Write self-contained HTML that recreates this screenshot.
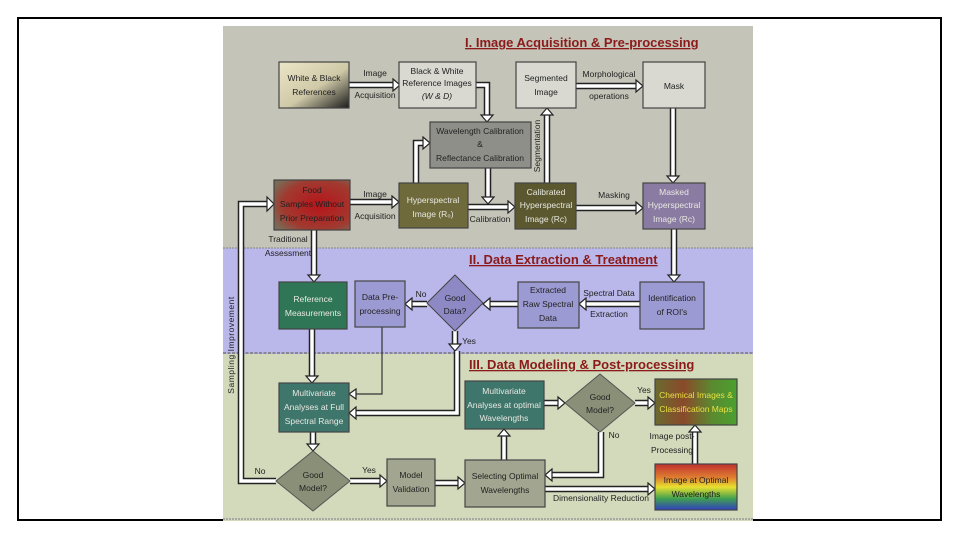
<!DOCTYPE html>
<html><head><meta charset="utf-8"><style>
html,body{margin:0;padding:0;background:#fff;width:960px;height:540px;overflow:hidden}
svg{display:block}
text{font-family:"Liberation Sans",sans-serif;font-size:8.5px;fill:#222}
.bt{fill:#222}
.lt{fill:#e8e8e0}
.tt{font-size:13px;font-weight:bold;fill:#8b1a1a;text-decoration:underline}
.o{fill:none;stroke:#222;stroke-width:6.5}
.i{fill:none;stroke:#fff;stroke-width:3.5}
.h{fill:#fff;stroke:#222;stroke-width:1.2}
.box{stroke:#444;stroke-width:1.2}
</style></head><body>
<svg width="960" height="540" viewBox="0 0 960 540" xmlns="http://www.w3.org/2000/svg">
<defs>
<linearGradient id="gwb" x1="0" y1="0" x2="1" y2="1"><stop offset="0" stop-color="#ece6c8"/><stop offset="0.55" stop-color="#cfc9a8"/><stop offset="1" stop-color="#1a1a1a"/></linearGradient>
<radialGradient id="gfood" cx="0.6" cy="0.5" r="0.7"><stop offset="0" stop-color="#b8141a"/><stop offset="0.7" stop-color="#a03a30"/><stop offset="1" stop-color="#7a6a55"/></radialGradient>
<linearGradient id="gchem" x1="0" y1="0" x2="1" y2="0"><stop offset="0" stop-color="#6a6a30"/><stop offset="0.35" stop-color="#8a4a2a"/><stop offset="0.7" stop-color="#5a8a30"/><stop offset="1" stop-color="#4aa030"/></linearGradient>
<linearGradient id="grain" x1="0" y1="0" x2="0" y2="1"><stop offset="0" stop-color="#c03030"/><stop offset="0.3" stop-color="#e08030"/><stop offset="0.5" stop-color="#e8e030"/><stop offset="0.75" stop-color="#40a050"/><stop offset="1" stop-color="#3040c0"/></linearGradient>
</defs>
<rect x="18" y="18" width="923" height="502" fill="none" stroke="#000" stroke-width="2"/>
<!-- sections -->
<rect x="223" y="26" width="530" height="222" fill="#c5c4b8"/>
<rect x="223" y="248" width="530" height="106" fill="#bab7ea"/>
<rect x="223" y="354" width="530" height="167" fill="#d3dabb"/>
<line x1="223" y1="248" x2="753" y2="248" stroke="#888" stroke-dasharray="2,1"/>
<line x1="223" y1="353" x2="753" y2="353" stroke="#777" stroke-width="1.5" stroke-dasharray="3,1.5"/>
<line x1="223" y1="519" x2="753" y2="519" stroke="#999" stroke-width="1.5" stroke-dasharray="2,1"/>
<text x="465" y="47" class="tt">I. Image Acquisition &amp; Pre-processing</text>
<text x="469" y="264" class="tt">II. Data Extraction &amp; Treatment</text>
<text x="469" y="369" class="tt">III. Data Modeling &amp; Post-processing</text>

<!-- connectors -->
<g>
<path class="o" d="M349 85H393"/><path class="i" d="M349 85H393"/><polygon class="h" points="393,79 400,85 393,91"/>
<path class="o" d="M476 85H487V115"/><path class="i" d="M476 85H487V115"/><polygon class="h" points="481,115 487,122 493,115"/>
<path class="o" d="M416 183V143H423"/><path class="i" d="M416 183V143H423"/><polygon class="h" points="423,137 430,143 423,149"/>
<path class="o" d="M488 168V197"/><path class="i" d="M488 168V197"/><polygon class="h" points="482,197 488,204 494,197"/>
<path class="o" d="M468 207H508"/><path class="i" d="M468 207H508"/><polygon class="h" points="508,201 515,207 508,213"/>
<path class="o" d="M350 202H392"/><path class="i" d="M350 202H392"/><polygon class="h" points="392,196 399,202 392,208"/>
<path class="o" d="M547 183V115"/><path class="i" d="M547 183V115"/><polygon class="h" points="541,115 547,108 553,115"/>
<path class="o" d="M576 86H636"/><path class="i" d="M576 86H636"/><polygon class="h" points="636,80 643,86 636,92"/>
<path class="o" d="M673 108V176"/><path class="i" d="M673 108V176"/><polygon class="h" points="667,176 673,183 679,176"/>
<path class="o" d="M576 208H636"/><path class="i" d="M576 208H636"/><polygon class="h" points="636,202 643,208 636,214"/>
<path class="o" d="M674 229V275"/><path class="i" d="M674 229V275"/><polygon class="h" points="668,275 674,282 680,275"/>
<path class="o" d="M640 304H586"/><path class="i" d="M640 304H586"/><polygon class="h" points="586,298 579,304 586,310"/>
<path class="o" d="M518 304H490"/><path class="i" d="M518 304H490"/><polygon class="h" points="490,298 483,304 490,310"/>
<path class="o" d="M427 304H412"/><path class="i" d="M427 304H412"/><polygon class="h" points="412,298 405,304 412,310"/>
<path class="o" d="M455 331V344"/><path class="i" d="M455 331V344"/><polygon class="h" points="449,344 455,351 461,344"/>
<path class="o" d="M457 351V413H356"/><path class="i" d="M457 351V413H356"/><polygon class="h" points="356,407 349,413 356,419"/>
<path d="M382 327V394H356" fill="none" stroke="#333" stroke-width="1.2"/><polygon class="h" points="356,389 349,394 356,399"/>
<path class="o" d="M314 230V275"/><path class="i" d="M314 230V275"/><polygon class="h" points="308,275 314,282 320,275"/>
<path class="o" d="M312 329V376"/><path class="i" d="M312 329V376"/><polygon class="h" points="306,376 312,383 318,376"/>
<path class="o" d="M313 432V444"/><path class="i" d="M313 432V444"/><polygon class="h" points="307,444 313,451 319,444"/>
<path class="o" d="M350 481H380"/><path class="i" d="M350 481H380"/><polygon class="h" points="380,475 387,481 380,487"/>
<path class="o" d="M435 483H458"/><path class="i" d="M435 483H458"/><polygon class="h" points="458,477 465,483 458,489"/>
<path class="o" d="M504 460V436"/><path class="i" d="M504 460V436"/><polygon class="h" points="498,436 504,429 510,436"/>
<path class="o" d="M544 403H558"/><path class="i" d="M544 403H558"/><polygon class="h" points="558,397 565,403 558,409"/>
<path class="o" d="M635 403H648"/><path class="i" d="M635 403H648"/><polygon class="h" points="648,397 655,403 648,409"/>
<path class="o" d="M601 432V475H552"/><path class="i" d="M601 432V475H552"/><polygon class="h" points="552,469 545,475 552,481"/>
<path class="o" d="M545 489H648"/><path class="i" d="M545 489H648"/><polygon class="h" points="648,483 655,489 648,495"/>
<path class="o" d="M695 464V432"/><path class="i" d="M695 464V432"/><polygon class="h" points="689,432 695,425 701,432"/>
<path class="o" d="M276 481H241V204H267" stroke-width="8"/><path class="i" d="M276 481H241V204H267" stroke-width="5"/><polygon class="h" points="267,197 274,204 267,211"/>
</g>

<!-- boxes -->
<rect class="box" x="279" y="62" width="70" height="46" fill="url(#gwb)"/>
<text x="314" y="81" text-anchor="middle">White &amp; Black</text><text x="314" y="95" text-anchor="middle">References</text>
<rect class="box" x="399" y="62" width="77" height="46" fill="#d9d9d2"/>
<text x="437" y="74" text-anchor="middle">Black &amp; White</text><text x="437" y="86" text-anchor="middle">Reference Images</text><text x="437" y="99" text-anchor="middle" font-style="italic">(W &amp; D)</text>
<rect class="box" x="516" y="62" width="60" height="46" fill="#d9d9d2"/>
<text x="546" y="81" text-anchor="middle">Segmented</text><text x="546" y="95" text-anchor="middle">Image</text>
<rect class="box" x="643" y="62" width="62" height="46" fill="#d9d9d2"/>
<text x="674" y="89" text-anchor="middle">Mask</text>
<rect class="box" x="430" y="122" width="101" height="46" fill="#8f8f8a"/>
<text x="480" y="134" text-anchor="middle">Wavelength Calibration</text><text x="480" y="147" text-anchor="middle">&amp;</text><text x="480" y="161" text-anchor="middle">Reflectance Calibration</text>
<rect class="box" x="274" y="180" width="76" height="50" fill="url(#gfood)"/>
<text x="312" y="193" text-anchor="middle">Food</text><text x="312" y="207" text-anchor="middle">Samples Without</text><text x="312" y="221" text-anchor="middle">Prior Preparation</text>
<rect class="box" x="399" y="183" width="69" height="45" fill="#6e6a3c"/>
<text x="433" y="203" text-anchor="middle" class="lt">Hyperspectral</text><text x="433" y="217" text-anchor="middle" class="lt">Image (R₀)</text>
<rect class="box" x="515" y="183" width="61" height="46" fill="#5b5830"/>
<text x="546" y="195" text-anchor="middle" class="lt">Calibrated</text><text x="546" y="208" text-anchor="middle" class="lt">Hyperspectral</text><text x="546" y="222" text-anchor="middle" class="lt">Image (Rc)</text>
<rect class="box" x="643" y="183" width="62" height="46" fill="#8a7ba2"/>
<text x="674" y="195" text-anchor="middle" class="lt">Masked</text><text x="674" y="208" text-anchor="middle" class="lt">Hyperspectral</text><text x="674" y="222" text-anchor="middle" class="lt">Image (Rc)</text>

<rect class="box" x="279" y="282" width="68" height="47" fill="#2f7657"/>
<text x="313" y="302" text-anchor="middle" class="lt">Reference</text><text x="313" y="316" text-anchor="middle" class="lt">Measurements</text>
<rect class="box" x="355" y="281" width="50" height="46" fill="#9c9ad2"/>
<text x="380" y="300" text-anchor="middle">Data Pre-</text><text x="380" y="314" text-anchor="middle">processing</text>
<polygon points="455,275 483,303 455,331 427,303" fill="#8c89c4" stroke="#444"/>
<text x="455" y="301" text-anchor="middle">Good</text><text x="455" y="314" text-anchor="middle">Data?</text>
<rect class="box" x="518" y="282" width="61" height="46" fill="#9c9ad2"/>
<text x="548" y="293" text-anchor="middle">Extracted</text><text x="548" y="307" text-anchor="middle">Raw Spectral</text><text x="548" y="321" text-anchor="middle">Data</text>
<rect class="box" x="640" y="282" width="64" height="47" fill="#9c9ad2"/>
<text x="672" y="301" text-anchor="middle">Identification</text><text x="672" y="315" text-anchor="middle">of ROI's</text>

<rect class="box" x="279" y="383" width="70" height="49" fill="#3f766c"/>
<text x="314" y="396" text-anchor="middle" class="lt">Multivariate</text><text x="314" y="410" text-anchor="middle" class="lt">Analyses at Full</text><text x="314" y="424" text-anchor="middle" class="lt">Spectral Range</text>
<rect class="box" x="465" y="381" width="79" height="48" fill="#3f766c"/>
<text x="504" y="394" text-anchor="middle" class="lt">Multivariate</text><text x="504" y="408" text-anchor="middle" class="lt">Analyses at optimal</text><text x="504" y="421" text-anchor="middle" class="lt">Wavelengths</text>
<polygon points="600,374 635,403 600,432 565,403" fill="#8a8f78" stroke="#555"/>
<text x="600" y="400" text-anchor="middle">Good</text><text x="600" y="413" text-anchor="middle">Model?</text>
<rect class="box" x="655" y="379" width="82" height="46" fill="url(#gchem)"/>
<text x="696" y="398" text-anchor="middle" fill="#e8e040" style="fill:#e8e040">Chemical Images &amp;</text><text x="696" y="412" text-anchor="middle" style="fill:#e8e040">Classification Maps</text>
<polygon points="313,451 350,481 313,511 276,481" fill="#8a8f78" stroke="#555"/>
<text x="313" y="478" text-anchor="middle">Good</text><text x="313" y="491" text-anchor="middle">Model?</text>
<rect class="box" x="387" y="459" width="48" height="47" fill="#a2a690"/>
<text x="411" y="478" text-anchor="middle">Model</text><text x="411" y="492" text-anchor="middle">Validation</text>
<rect class="box" x="465" y="460" width="80" height="47" fill="#a2a690"/>
<text x="505" y="479" text-anchor="middle">Selecting Optimal</text><text x="505" y="493" text-anchor="middle">Wavelengths</text>
<rect class="box" x="655" y="464" width="82" height="46" fill="url(#grain)"/>
<text x="696" y="483" text-anchor="middle">Image at Optimal</text><text x="696" y="497" text-anchor="middle">Wavelengths</text>

<!-- labels -->
<text x="375" y="76" text-anchor="middle">Image</text><text x="375" y="98" text-anchor="middle">Acquisition</text>
<text x="375" y="197" text-anchor="middle">Image</text><text x="375" y="219" text-anchor="middle">Acquisition</text>
<text x="490" y="222" text-anchor="middle">Calibration</text>
<text x="609" y="77" text-anchor="middle">Morphological</text><text x="609" y="99" text-anchor="middle">operations</text>
<text x="614" y="198" text-anchor="middle">Masking</text>
<text x="540" y="146" text-anchor="middle" transform="rotate(-90 540 146)">Segmentation</text>
<text x="609" y="296" text-anchor="middle">Spectral Data</text><text x="609" y="317" text-anchor="middle">Extraction</text>
<text x="421" y="297" text-anchor="middle">No</text>
<text x="469" y="344" text-anchor="middle">Yes</text>
<text x="288" y="242" text-anchor="middle">Traditional</text><text x="288" y="256" text-anchor="middle">Assessment</text>
<text x="369" y="473" text-anchor="middle">Yes</text>
<text x="260" y="474" text-anchor="middle">No</text>
<text x="644" y="393" text-anchor="middle">Yes</text>
<text x="614" y="438" text-anchor="middle">No</text>
<text x="672" y="439" text-anchor="middle">Image post-</text><text x="672" y="453" text-anchor="middle">Processing</text>
<text x="601" y="501" text-anchor="middle">Dimensionality Reduction</text>
<text x="234" y="345" text-anchor="middle" transform="rotate(-90 234 345)" letter-spacing="0.5">Sampling Improvement</text>
</svg>
</body></html>
